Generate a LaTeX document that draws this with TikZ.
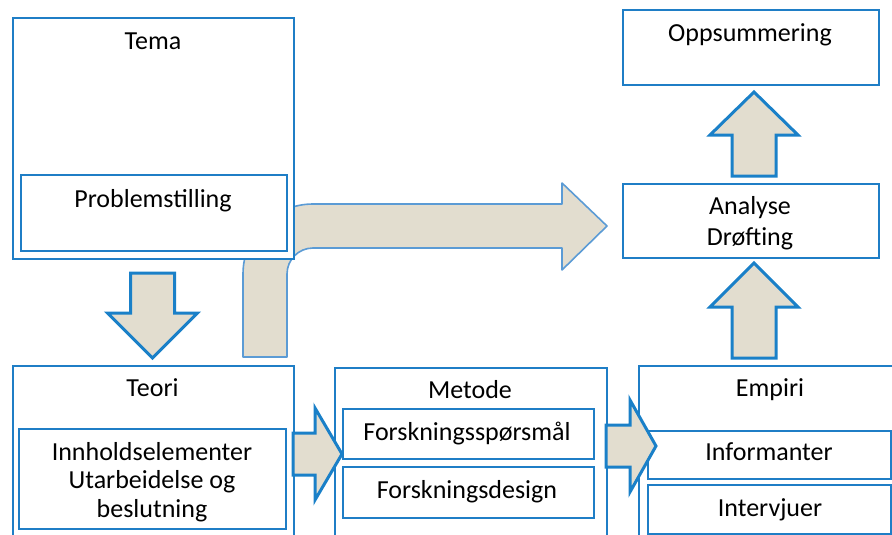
\documentclass[tikz,border=0pt]{standalone}
\usepackage{fontspec}
\setmainfont{Carlito}
\definecolor{boxblue}{HTML}{1F7EC6}
\definecolor{arrblue}{HTML}{1A80C8}
\definecolor{lightblue}{HTML}{5B9BD5}
\definecolor{beige}{HTML}{E2DDCF}
\begin{document}
\begin{tikzpicture}[x=1pt,y=-1pt,
  box/.style={draw=boxblue, line width=2.2pt, fill=white, inner sep=0pt, anchor=north west},
  lbl/.style={inner sep=0pt, anchor=base, font=\fontsize{26}{28.5}\selectfont},
  blockarrow/.style={draw=arrblue, line width=3pt, fill=beige, line join=miter},
  bentarrow/.style={draw=lightblue, line width=1.6pt, fill=beige, line join=round}]
\useasboundingbox (0,0) rectangle (892,535);
\clip (0,0) rectangle (892,535);
% bent arrow (behind boxes)
\draw[bentarrow] (243,357) -- (243,274) arc[start angle=180, end angle=270, radius=70]
  -- (562,204) -- (562,183) -- (607,226) -- (562,270) -- (562,248) -- (313,248)
  arc[start angle=270, end angle=180, radius=26] -- (287,357) -- cycle;
% boxes
\node[box, minimum width=281pt, minimum height=241pt] (tema) at (12,17) {};
\node[box, minimum width=266pt, minimum height=76pt] (prob) at (20,174) {};
\node[box, minimum width=281pt, minimum height=185pt] (teori) at (12,365) {};
\node[box, minimum width=267pt, minimum height=100pt] (innh) at (18,428) {};
\node[box, minimum width=272pt, minimum height=185pt] (metode) at (334,367) {};
\node[box, minimum width=251pt, minimum height=50pt] (fsp) at (342,408) {};
\node[box, minimum width=251pt, minimum height=51pt] (fdes) at (342,466) {};
\node[box, minimum width=270pt, minimum height=185pt] (empiri) at (638,365) {};
\node[box, minimum width=243pt, minimum height=48pt] (inf) at (647,430) {};
\node[box, minimum width=243pt, minimum height=49pt] (intv) at (647,484) {};
\node[box, minimum width=256pt, minimum height=75pt] (opps) at (622,9) {};
\node[box, minimum width=256pt, minimum height=74pt] (analyse) at (622,183) {};
% labels
\node[lbl] (tTema) at (153,50) {Tema};
\node[lbl] (tProb) at (153,207) {Problemstilling};
\node[lbl] (tTeori) at (152.5,396) {Teori};
\node[lbl, align=center] (tInnh) at (152,517) {Innholdselementer\\Utarbeidelse og\\beslutning};
\node[lbl] (tMet) at (470,398) {Metode};
\node[lbl] (tFsp) at (467,440) {Forskningsspørsmål};
\node[lbl] (tFdes) at (467,498) {Forskningsdesign};
\node[lbl] (tEmp) at (770,396) {Empiri};
\node[lbl] (tInf) at (769,460) {Informanter};
\node[lbl] (tIntv) at (770,516) {Intervjuer};
\node[lbl] (tOpps) at (750,42) {Oppsummering};
\node[lbl, align=center, font=\fontsize{26}{31}\selectfont] (tAna) at (750,245) {Analyse\\Drøfting};
% block arrows
\draw[blockarrow] (130.5,273) -- (174.5,273) -- (174.5,313) -- (197.5,313) -- (152.5,358) -- (107.5,313) -- (130.5,313) -- cycle;
\draw[blockarrow] (293,433) -- (315,433) -- (315,408) -- (342,454) -- (315,500) -- (315,475) -- (293,475) -- cycle;
\draw[blockarrow] (606,425) -- (630,425) -- (630,400) -- (656,446) -- (630,492) -- (630,467) -- (606,467) -- cycle;
\draw[blockarrow] (732,176) -- (732,135) -- (710,135) -- (754,92) -- (798,135) -- (776,135) -- (776,176) -- cycle;
\draw[blockarrow] (732,358) -- (732,307) -- (710,307) -- (754,263) -- (798,307) -- (776,307) -- (776,358) -- cycle;
\end{tikzpicture}
\end{document}
